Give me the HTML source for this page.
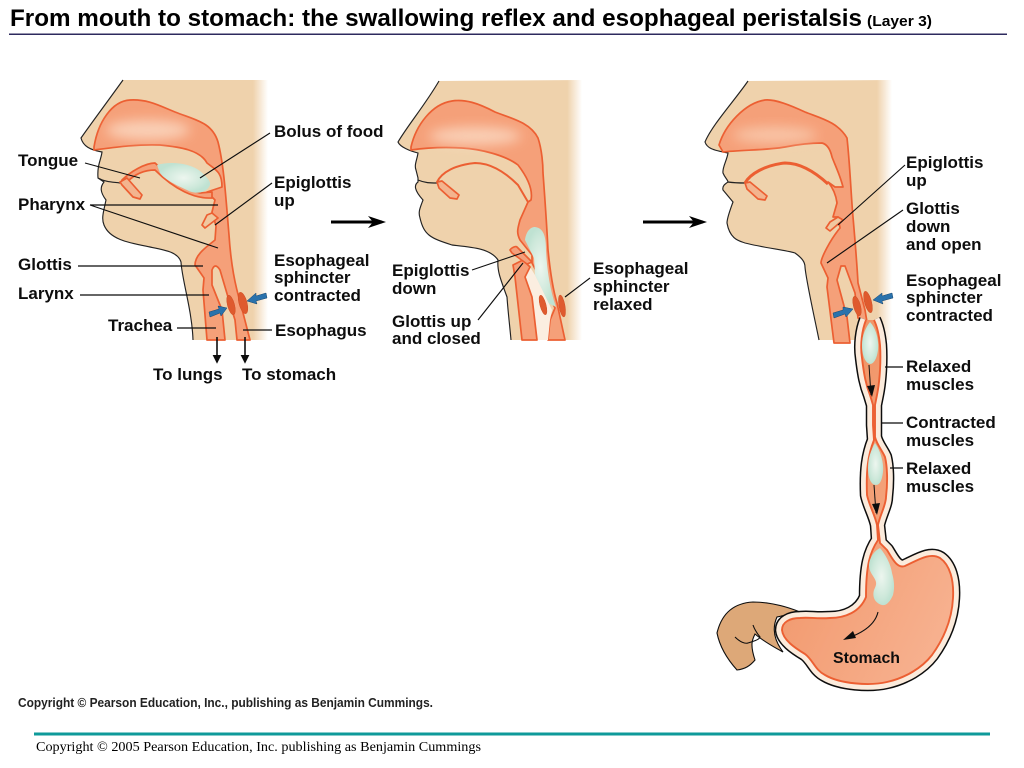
<!DOCTYPE html>
<html><head><meta charset="utf-8"><style>
html,body{margin:0;padding:0;background:#fff}
svg{display:block}
.l{font:bold 17px "Liberation Sans",sans-serif;fill:#111}
.k{stroke:#111;stroke-width:1.15;fill:none}
.p{fill:none;stroke:#222;stroke-width:1.15}
.a{fill:#F5A079;stroke:#EC5F33;stroke-width:1.7;stroke-linejoin:round}
.s{fill:#DF5A2E;stroke:#D04E24;stroke-width:.5}
.g{fill:url(#gr)}
</style></head><body>
<svg width="1024" height="768" viewBox="0 0 1024 768" xmlns="http://www.w3.org/2000/svg">
<defs>
<linearGradient id="sk"><stop offset=".92" stop-color="#EFD2AC"/><stop offset="1" stop-color="#EFD2AC" stop-opacity="0"/></linearGradient>
<radialGradient id="gr"><stop offset="0" stop-color="#EDF6EF"/><stop offset=".75" stop-color="#CDE8DA"/><stop offset="1" stop-color="#BFE2D2"/></radialGradient>
<linearGradient id="st" x1="0" y1="0" x2="1" y2="1"><stop offset="0" stop-color="#EE8A58"/><stop offset="1" stop-color="#F8B595"/></linearGradient>
<filter id="b" x="-5%" y="-5%" width="110%" height="110%"><feGaussianBlur stdDeviation=".33"/></filter>
<filter id="b2" x="-30%" y="-60%" width="160%" height="220%"><feGaussianBlur stdDeviation="6"/></filter>
<marker id="ah" viewBox="0 0 10 10" refX="8" refY="5" markerWidth="5.5" markerHeight="6" orient="auto"><path d="M0 0L10 5L0 10Z" fill="#111"/></marker>
<path id="lum" d="M866 320C862 330 860 345 862 358C864 375 866 385 870 395L873 405L873 425L874 440C868 455 866 470 867 495C869 505 875 515 877 525L878 540C870 552 866 565 866 597C860 612 845 618 830 618C815 619 810 617 800 618C790 618 782 622 782 630C783 640 795 648 805 654C813 660 815 670 825 675C840 684 870 686 887 682C905 678 922 668 932 655C945 637 952 618 953 598C954 580 950 565 940 558C930 552 918 560 905 566C897 569 892 558 887 550L880 543L878 525C880 515 886 505 886 497C888 480 887 465 885 457C882 450 877 445 875 437L875 405L877 395C880 380 881 360 880 345C879 335 877 326 874 320"/>
</defs>

<text x="10" y="26" textLength="852" lengthAdjust="spacingAndGlyphs" style="font:bold 24.5px 'Liberation Sans',sans-serif" fill="#000">From mouth to stomach: the swallowing reflex and esophageal peristalsis</text>
<text x="867" y="26" textLength="65" lengthAdjust="spacingAndGlyphs" style="font:bold 15px 'Liberation Sans',sans-serif" fill="#000">(Layer 3)</text>
<rect x="9" y="33.5" width="998" height="1.5" fill="#2d2a5e"/>

<g filter="url(#b)">
<!-- HEAD 1 -->
<path d="M123 80C105 105 90 125 81 138C83 146 90 150 102 152C101 160 97 165 98 178L104 182C100 187 100 192 106 200C104 210 101 218 104 225C110 240 130 243 150 247C165 250 178 252 181 262C182 280 192 310 193 340L268 340L268 80Z" fill="url(#sk)"/>
<path class="p" d="M123 80C105 105 90 125 81 138C83 146 90 150 102 152C101 160 97 165 98 178L104 182C100 187 100 192 106 200C104 210 101 218 104 225C110 240 130 243 150 247C165 250 178 252 181 262C182 280 192 310 193 340M98 178C105 182 113 182 120 183"/>
<path class="a" d="M94 147C98 122 112 101 130 100C148 99 160 106 175 112C195 120 212 122 218 142C224 165 226 200 229 235C231 265 235 285 241 305L250 340L237 340L235 320L228 297L220 270Q215 262 212 270L212 285L222 310L225 340L207 340L203 290L204 278L195 265C195 255 205 248 215 240L216 226L212 212L215 200L207 192L222 187C222 172 216 170 207 163C200 150 180 147 160 145C135 144 110 148 94 150Z"/>
<ellipse cx="148" cy="130" rx="42" ry="10" fill="#FBDCC6" opacity=".8" filter="url(#b2)"/>
<path class="a" d="M122 180C130 172 145 163 155 163C165 172 180 188 200 193L212 192L212 198C195 199 175 190 155 170C145 170 135 174 127 182Z"/>
<path class="g" d="M157 165C170 161 190 163 200 171C206 176 211 181 210 185C207 193 195 195 187 190C178 186 165 180 160 173Z"/>
<path class="a" style="fill:#F3B48E" d="M120 182L127 178L142 195L140 199L133 197L122 185Z"/>
<path class="a" style="fill:#F0C8A0" d="M212 213L218 218L205 228L202 225L207 215Z"/>
<ellipse cx="231" cy="305" rx="3.5" ry="10" class="s" transform="rotate(-15 231 305)"/>
<ellipse cx="243" cy="303" rx="4" ry="11" class="s" transform="rotate(-15 243 303)"/>
<path d="M209 312L219 309L218 306L227 308L221 316L220 313L210 317Z" fill="#2C72AC" stroke="#16456e" stroke-width=".5"/>
<path d="M266 293L256 296L256 293L247 301L257 304L256 301L267 298Z" fill="#2C72AC" stroke="#16456e" stroke-width=".5"/>
<path class="k" d="M85 163L140 178M90 205H218M90 205L218 248M270 133L200 178M272 183L215 225M78 266H203M80 295H209M177 328H216M272 330H243"/>
<path d="M217 337V362" stroke="#111" stroke-width="1.6" marker-end="url(#ah)"/>
<path d="M245 337V362" stroke="#111" stroke-width="1.6" marker-end="url(#ah)"/>

<!-- big arrows -->
<path d="M331 222H382" stroke="#000" stroke-width="3"/><path d="M368 216L386 222L368 228L373 222Z" fill="#000"/>
<path d="M643 222H703" stroke="#000" stroke-width="3"/><path d="M689 216L707 222L689 228L694 222Z" fill="#000"/>

<!-- HEAD 2 -->
<path d="M439 81C425 105 408 125 398 142C400 147 410 151 418 153C417 160 414 165 416 170L418 178L418 182C414 185 414 190 423 200C420 208 418 212 420 218C424 235 430 238 452 245C470 247 490 248 498 260C497 270 500 278 507 297C508 312 510 328 511 340L582 340L582 80Z" fill="url(#sk)"/>
<path class="p" d="M439 81C425 105 408 125 398 142C400 147 410 151 418 153C417 160 414 165 416 170L418 178L418 182C414 185 414 190 423 200C420 208 418 212 420 218C424 235 430 238 452 245C470 247 490 248 498 260C497 270 500 278 507 297C508 312 510 328 511 340M418 180C425 183 430 183 437 183"/>
<path class="a" d="M411 147C416 125 432 104 452 101C465 99 478 103 495 112C510 118 530 122 538 138C542 150 543 165 543 173C545 200 547 230 548 250C550 270 553 290 557 303L565 340L548 340L550 320L555 308L545 288L532 263L532 255L520 240C516 232 518 228 520 220L528 202L531 200C533 190 528 178 518 165C505 155 480 149 462 148C445 147 425 148 411 150Z"/>
<ellipse cx="475" cy="136" rx="46" ry="9" fill="#FBDCC6" opacity=".8" filter="url(#b2)"/>
<path fill="none" stroke="#EC5F33" stroke-width="2" d="M437 182C442 172 455 165 475 163C490 163 505 172 518 185L528 202"/>
<path class="a" style="fill:#F3B48E" d="M437 182L442 181L459 195L457 199L450 198L439 188Z"/>
<path class="g" d="M535 227C545 228 546 240 546 250C547 270 550 290 556 307L548 303L535 275L534 258L525 240C526 232 530 227 535 227Z"/>
<path d="M525 277L530 267L535 275L552 310L550 320L548 340L537 340L532 297Z" fill="#fbeee0"/>
<path class="a" d="M515 277L513 265L523 260L530 267L525 277L532 297L537 340L522 340Z"/>
<path class="a" style="fill:#F3A07C" d="M510 250C512 247 516 246 517 247L532 262L527 264L512 253Z"/>
<ellipse cx="543" cy="305" rx="3" ry="10" class="s" transform="rotate(-15 543 305)"/>
<ellipse cx="562" cy="306" rx="3" ry="11" class="s" transform="rotate(-10 562 306)"/>
<path class="k" d="M472 270L525 252M478 320L523 263M590 278L565 297"/>

<!-- HEAD 3 -->
<path d="M748 81C735 100 712 125 705 142C707 148 712 150 728 153C727 160 722 168 723 173C725 178 728 180 728 182C725 184 722 186 723 190L733 202C730 210 727 218 727 223C730 240 740 241 745 243C765 248 785 250 795 253C802 258 805 262 805 267C806 280 815 320 819 340L892 340L892 80Z" fill="url(#sk)"/>
<path class="p" d="M748 81C735 100 712 125 705 142C707 148 712 150 728 153C727 160 722 168 723 173C725 178 728 180 728 182C725 184 722 186 723 190L733 202C730 210 727 218 727 223C730 240 740 241 745 243C765 248 785 250 795 253C802 258 805 262 805 267C806 280 815 320 819 340M728 182C735 183 740 183 745 183"/>
<path class="a" d="M719 145C725 125 745 103 765 100C775 99 790 105 805 112C820 118 838 122 847 138C850 165 851 195 853 217C855 240 857 265 858 283L865 310L867 322L858 318L855 293L845 266L841 266L837 280L847 317L850 343L834 343L827 287L828 278L821 263C821 258 830 240 840 228L838 217L833 217L837 203C836 195 833 188 828 182L835 187L843 187C840 175 835 165 832 157C830 148 826 144 822 143C805 143 790 146 785 147C770 150 740 150 723 152Z"/>
<ellipse cx="775" cy="135" rx="42" ry="8" fill="#F9CFB4" opacity=".8" filter="url(#b2)"/>
<path fill="none" stroke="#EC5F33" stroke-width="3" d="M745 183C750 174 765 165 785 163C800 163 815 172 828 184"/>
<path class="a" style="fill:#F3B48E" d="M745 183L750 182L767 196L765 200L758 199L747 189Z"/>
<path class="a" style="fill:#F0C8A0" d="M838 217L843 220L830 231L826 228L830 222Z"/>

<!-- LOWER ESOPHAGUS + STOMACH -->
<path d="M717 633C722 612 735 603 753 602C770 602 785 606 800 612L777 617C772 628 774 640 783 652C770 645 762 640 755 634C752 640 750 645 755 660C750 666 745 669 737 670C728 660 720 648 717 633Z" fill="#DDA878" stroke="#111" stroke-width="1.1"/>
<path d="M735 637C740 642 745 644 748 643C755 641 760 639 760 637C756 632 754 628 753 625" fill="none" stroke="#111" stroke-width="1.1"/>
<g stroke-linejoin="round">
<use href="#lum" fill="none" stroke="#111" stroke-width="14.5"/>
<use href="#lum" fill="#FBEBDC" stroke="#FBEBDC" stroke-width="11.5"/>
<use href="#lum" fill="url(#st)" stroke="#EC5F33" stroke-width="1.9"/>
</g>
<path class="g" d="M870 322C876 328 879 340 878 350C877 358 874 364 870 364C865 363 862 355 862 345C862 335 866 327 870 322Z"/>
<path class="g" d="M875 443C880 450 884 462 883 472C882 480 880 485 876 485C871 485 868 478 868 468C868 458 871 450 875 443Z"/>
<path class="g" d="M880 548C886 555 891 565 892 573C894 580 895 587 893 595C890 602 886 606 882 605C875 603 872 597 874 590C877 584 877 582 873 576C869 570 868 566 870 560C872 554 876 550 880 548Z"/>
<ellipse cx="857" cy="306" rx="3.5" ry="10" class="s" transform="rotate(-15 857 306)"/>
<ellipse cx="868" cy="302" rx="3.5" ry="11" class="s" transform="rotate(-15 868 302)"/>
<path d="M833 313L843 310L843 307L853 309L846 317L845 314L834 318Z" fill="#2C72AC" stroke="#16456e" stroke-width=".5"/>
<path d="M892 293L882 296L882 293L873 300L883 304L882 301L893 298Z" fill="#2C72AC" stroke="#16456e" stroke-width=".5"/>
<path d="M869 365L871 395" stroke="#111" stroke-width="1" /><path d="M867 386L875 385L872 397Z" fill="#111"/>
<path d="M874 485L876 513" stroke="#111" stroke-width="1"/><path d="M872 504L880 503L877 515Z" fill="#111"/>
<path d="M878 612C875 625 862 633 848 638" fill="none" stroke="#111" stroke-width="1.1"/><path d="M843 640L853 631L856 638Z" fill="#111"/>
<path class="k" d="M905 165L838 225M903 210L827 263M903 367H885M903 423H882M903 468H890"/>

<!-- LABELS -->
<text class="l" x="18" y="166">Tongue</text>
<text class="l" x="18" y="210">Pharynx</text>
<text class="l" x="18" y="270">Glottis</text>
<text class="l" x="18" y="299">Larynx</text>
<text class="l" x="108" y="331">Trachea</text>
<text class="l" x="153" y="380">To lungs</text>
<text class="l" x="242" y="380">To stomach</text>
<text class="l" x="274" y="137">Bolus of food</text>
<text class="l" x="274" y="188">Epiglottis</text>
<text class="l" x="274" y="206">up</text>
<text class="l" x="274" y="266">Esophageal</text>
<text class="l" x="274" y="283">sphincter</text>
<text class="l" x="274" y="301">contracted</text>
<text class="l" x="275" y="336">Esophagus</text>
<text class="l" x="392" y="276">Epiglottis</text>
<text class="l" x="392" y="294">down</text>
<text class="l" x="392" y="327">Glottis up</text>
<text class="l" x="392" y="344">and closed</text>
<text class="l" x="593" y="274">Esophageal</text>
<text class="l" x="593" y="292">sphincter</text>
<text class="l" x="593" y="310">relaxed</text>
<text class="l" x="906" y="168">Epiglottis</text>
<text class="l" x="906" y="186">up</text>
<text class="l" x="906" y="214">Glottis</text>
<text class="l" x="906" y="232">down</text>
<text class="l" x="906" y="250">and open</text>
<text class="l" x="906" y="286">Esophageal</text>
<text class="l" x="906" y="303">sphincter</text>
<text class="l" x="906" y="321">contracted</text>
<text class="l" x="906" y="372">Relaxed</text>
<text class="l" x="906" y="390">muscles</text>
<text class="l" x="906" y="428">Contracted</text>
<text class="l" x="906" y="446">muscles</text>
<text class="l" x="906" y="474">Relaxed</text>
<text class="l" x="906" y="492">muscles</text>
<text x="833" y="663" textLength="67" lengthAdjust="spacingAndGlyphs" style="font:bold 15.5px 'Liberation Sans',sans-serif" fill="#111">Stomach</text>
<text x="18" y="707" textLength="415" lengthAdjust="spacingAndGlyphs" style="font:bold 12.5px 'Liberation Sans',sans-serif" fill="#222">Copyright © Pearson Education, Inc., publishing as Benjamin Cummings.</text>
</g>

<rect x="34" y="732.5" width="956" height="3" fill="#0E9A9A"/>
<text x="36" y="751" textLength="445" lengthAdjust="spacingAndGlyphs" style="font:13.5px 'Liberation Serif',serif" fill="#000">Copyright © 2005 Pearson Education, Inc. publishing as Benjamin Cummings</text>
</svg>
</body></html>
